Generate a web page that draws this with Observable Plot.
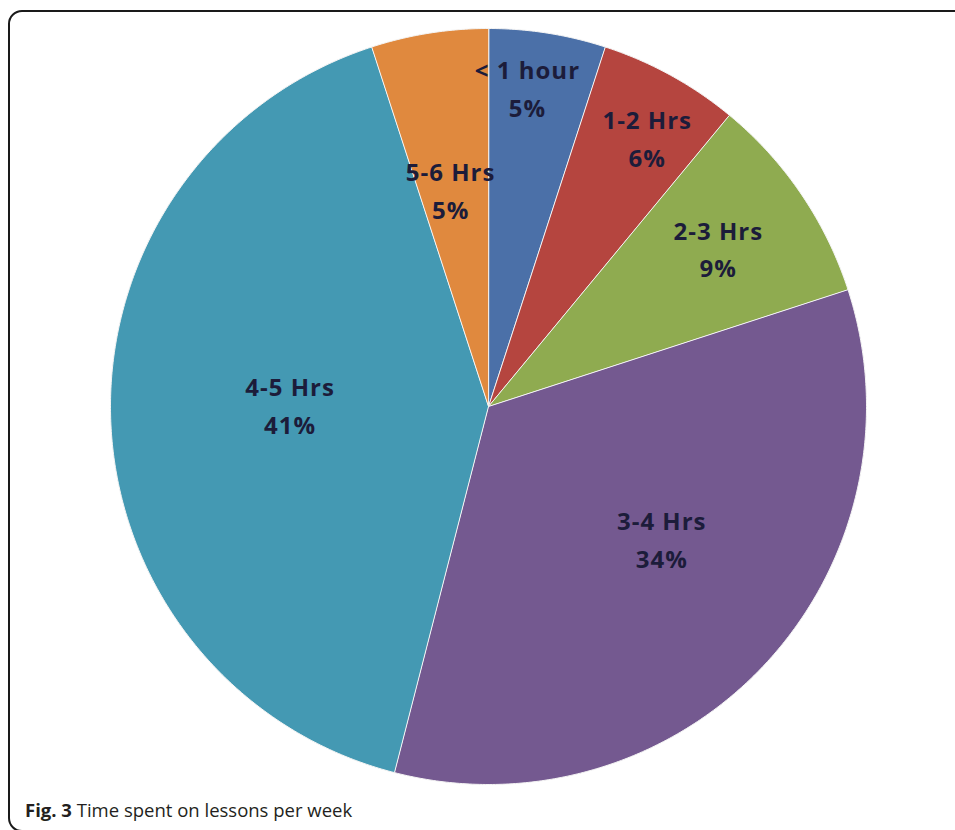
<!DOCTYPE html>
<html>
<head>
<meta charset="utf-8">
<script src="https://cdn.jsdelivr.net/npm/d3@7"></script>
<script src="https://cdn.jsdelivr.net/npm/@observablehq/plot@0.6"></script>
<style>
  html, body { margin: 0; padding: 0; background: #fff; }
  #page { position: relative; width: 955px; height: 830px; overflow: hidden; background: #fff; }
  #chart { position: absolute; left: 0; top: 0; }
  #chart svg text { letter-spacing: 1px; }
  #frame { position: absolute; left: 8px; top: 10px; width: 1000px; height: 822px;
           border: 2px solid #1a1a1a; border-radius: 14px; box-sizing: border-box; pointer-events: none; }
  #caption { position: absolute; left: 25px; top: 801px; font-family: "Open Sans", sans-serif;
             font-size: 18.5px; line-height: 18px; color: #231f20; white-space: nowrap; }
</style>
</head>
<body>
<div id="page">
  <div id="chart"></div>
  <div id="frame"></div>
  <div id="caption"><b>Fig. 3</b> Time spent on lessons per week</div>
</div>
<script>
// ---- data ----
const categories = ["< 1 hour", "1-2 Hrs", "2-3 Hrs", "3-4 Hrs", "4-5 Hrs", "5-6 Hrs"];
const percents = [5, 6, 9, 34, 41, 5];

// ---- styling / layout ----
const sliceColors = ["#4b70a8", "#b5453f", "#8fab50", "#745990", "#4499b3", "#e0893e"];
// label placement (Excel "best fit"): [radius fraction, angle nudge in degrees]
const labelLayout = {
  "< 1 hour": [0.845, -2],
  "1-2 Hrs": [0.82, 2],
  "2-3 Hrs": [0.735, 0],
  "3-4 Hrs": [0.58, -5.4],
  "4-5 Hrs": [0.525, 1.8],
  "5-6 Hrs": [0.577, -1]
};

const arcs = d3.pie().sort(null).value(d => d)(percents);

// slice outlines in unit-circle coordinates (clockwise from 12 o'clock)
const slicePoints = [];
arcs.forEach((a, i) => {
  const cat = categories[i];
  slicePoints.push({cat, x: 0, y: 0});
  const n = Math.max(2, Math.ceil((a.endAngle - a.startAngle) / (Math.PI / 360)));
  for (let k = 0; k <= n; k++) {
    const t = a.startAngle + (a.endAngle - a.startAngle) * k / n;
    slicePoints.push({cat, x: Math.sin(t), y: Math.cos(t)});
  }
});

const labels = arcs.map((a, i) => {
  const cat = categories[i];
  const [rf, nudge] = labelLayout[cat];
  const t = (a.startAngle + a.endAngle) / 2 + nudge * Math.PI / 180;
  return {cat, text: `${cat}\n${percents[i]}%`, x: rf * Math.sin(t), y: rf * Math.cos(t)};
});

const cx = 488, cy = 406, R = 378;

const chart = Plot.plot({
  width: 955,
  height: 800,
  margin: 0,
  style: {background: "transparent", overflow: "visible"},
  x: {domain: [-1, 1], range: [cx - R, cx + R], axis: null},
  y: {domain: [-1, 1], range: [cy + R, cy - R], axis: null},
  color: {domain: categories, range: sliceColors},
  marks: [
    Plot.line(slicePoints, {
      x: "x", y: "y", z: "cat", fill: "cat",
      stroke: "#f4f4f4", strokeWidth: 1, curve: "linear-closed"
    }),
    Plot.text(labels, {
      x: "x", y: "y", text: "text", dy: -4,
      fontSize: 24, fontWeight: "bold", fontFamily: "Open Sans",
      fill: "#1c1c3a", lineHeight: 1.58, textAnchor: "middle", lineAnchor: "middle"
    })
  ]
});
document.getElementById("chart").appendChild(chart);
</script>
</body>
</html>
